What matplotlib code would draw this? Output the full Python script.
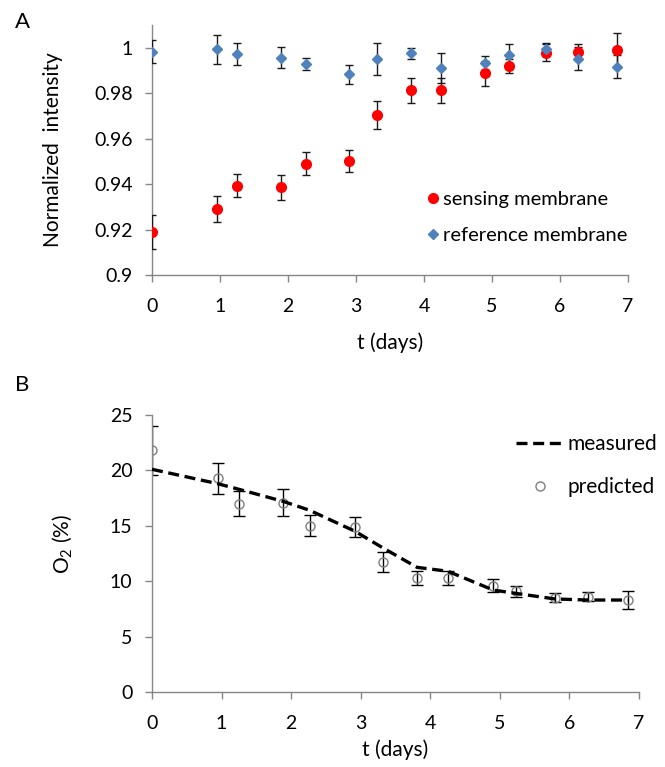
import matplotlib
matplotlib.use('Agg')
import matplotlib.pyplot as plt

plt.rcParams['font.family'] = ['Lato', 'DejaVu Sans']
plt.rcParams['mathtext.fontset'] = 'custom'
plt.rcParams['mathtext.rm'] = 'Lato'

# Panel A - normalized intensity
days_a = [0.0, 0.95, 1.25, 1.89, 2.27, 2.90, 3.31, 3.81, 4.25, 4.89, 5.25, 5.80, 6.26, 6.84]
sensing = [0.9188, 0.9289, 0.9393, 0.9386, 0.9489, 0.9502, 0.9703, 0.9813, 0.9813, 0.9887,
           0.9919, 0.9977, 0.9979, 0.9990]
sensing_err = [0.0075, 0.0057, 0.0050, 0.0055, 0.0050, 0.0048, 0.0063, 0.0055, 0.0055, 0.0055,
               0.0032, 0.0038, 0.0035, 0.0075]
reference = [0.9982, 0.9992, 0.9971, 0.9955, 0.9927, 0.9882, 0.9949, 0.9974, 0.9909, 0.9931,
             0.9967, 0.9992, 0.9951, 0.9916]
reference_err = [0.0050, 0.0063, 0.0047, 0.0047, 0.0028, 0.0043, 0.0070, 0.0023, 0.0065, 0.0031,
                 0.0050, 0.0030, 0.0050, 0.0050]

# Panel B - oxygen
days_b = [0.0, 0.944, 1.246, 1.888, 2.266, 2.92, 3.32, 3.81, 4.25, 4.906, 5.23, 5.79, 6.26, 6.84]
measured = [20.1, 18.8, 18.3, 17.2, 16.4, 14.5, 13.0, 11.25, 10.9, 9.2, 8.9, 8.4, 8.3, 8.3]
predicted = [21.8, 19.3, 17.0, 17.1, 15.0, 14.9, 11.7, 10.3, 10.3, 9.6, 9.1, 8.5, 8.6, 8.3]
predicted_err = [2.2, 1.4, 1.1, 1.2, 0.95, 0.9, 0.9, 0.6, 0.6, 0.6, 0.5, 0.4, 0.4, 0.8]

axis_grey = '#868686'
tick_fs = 14
label_fs = 15
W, H = 665, 767

fig = plt.figure(figsize=(6.65, 7.67), dpi=100)


def style_axes(ax):
    for s in ['top', 'right']:
        ax.spines[s].set_visible(False)
    for s in ['left', 'bottom']:
        ax.spines[s].set_color(axis_grey)
        ax.spines[s].set_linewidth(1.0)
    ax.tick_params(axis='x', direction='out', color=axis_grey, length=5, width=1,
                   labelsize=tick_fs, pad=11.5)
    ax.tick_params(axis='y', direction='out', color=axis_grey, length=5, width=1,
                   labelsize=tick_fs, pad=9)
    ax.set_xlim(0, 7)
    ax.set_xticks(range(8))


# ---- A ----
ax1 = fig.add_axes([152 / W, 1 - 275 / H, 476 / W, 250 / H])
style_axes(ax1)
ax1.set_ylim(0.9, 1.0099)
ax1.set_yticks([0.9, 0.92, 0.94, 0.96, 0.98, 1.0])
ax1.set_yticklabels(['0.9', '0.92', '0.94', '0.96', '0.98', '1'])
ax1.errorbar(days_a, sensing, yerr=sensing_err, fmt='o', color='#ff0000', ms=7,
             ecolor='#1a1a1a', elinewidth=1, capsize=3, capthick=1, label='sensing membrane',
             zorder=3)
ax1.errorbar(days_a, reference, yerr=reference_err, fmt='D', color='#4f81bd', ms=5,
             ecolor='#1a1a1a', elinewidth=1, capsize=3, capthick=1, label='reference membrane',
             zorder=3)
ax1.set_xlabel('t (days)', fontsize=label_fs, va='center')
ax1.xaxis.set_label_coords(0.5, -(343 - 275) / 250)
ax1.set_ylabel('Normalized  intensity', fontsize=label_fs, va='center')
ax1.yaxis.set_label_coords((53 - 152) / 476, 0.5)
h, l = ax1.get_legend_handles_labels()
h = [x[0] for x in h]
ax1.legend(h, l, loc='upper left', bbox_to_anchor=(425 / W, 1 - 191 / H),
           bbox_transform=fig.transFigure, frameon=False, fontsize=14.5,
           borderpad=0, borderaxespad=0, handletextpad=0.07, handlelength=0.8,
           labelspacing=0.95)
fig.text(15 / W, 1 - 22 / H, 'A', fontsize=16, va='center')

# ---- B ----
ax2 = fig.add_axes([152 / W, 1 - 692 / H, 487 / W, 277 / H])
style_axes(ax2)
ax2.set_ylim(0, 25)
ax2.set_yticks([0, 5, 10, 15, 20, 25])
ax2.plot(days_b, measured, color='black', lw=2.4, linestyle=(0, (3.3, 1.7)), label='measured',
         zorder=3)
ax2.errorbar(days_b, predicted, yerr=predicted_err, fmt='o', mfc='none', mec='#7f7f7f', ms=6.5,
             mew=1, ecolor='black', elinewidth=1, capsize=4, capthick=1, label='predicted',
             zorder=2)
ax2.set_xlabel('t (days)', fontsize=label_fs, va='center')
ax2.xaxis.set_label_coords(0.5, -(750 - 692) / 277)
ax2.set_ylabel(r'O$\mathregular{_2}$ (%)', fontsize=label_fs, va='center')
ax2.yaxis.set_label_coords((62 - 152) / 487, (692 - 544) / 277)
h, l = ax2.get_legend_handles_labels()
h = [h[0], h[1][0]]
ax2.legend(h, l, loc='upper right', bbox_to_anchor=(657 / W, 1 - 434 / H),
           bbox_transform=fig.transFigure, frameon=False, fontsize=label_fs,
           borderpad=0, borderaxespad=0, handletextpad=0.15, handlelength=2.3,
           labelspacing=1.1)
fig.text(15 / W, 1 - 385 / H, 'B', fontsize=16, va='center')

fig.savefig('out.png', dpi=100)
